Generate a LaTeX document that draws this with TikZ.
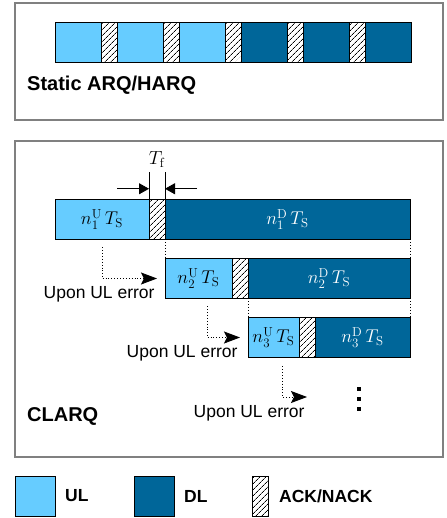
\documentclass[tikz,border=0pt]{standalone}
\usepackage{fix-cm}
\usepackage[no-math]{fontspec}
\setmainfont{Liberation Sans}
\usetikzlibrary{positioning, arrows.meta, patterns.meta}
\definecolor{ulblue}{RGB}{102,204,255}
\definecolor{dlblue}{RGB}{0,102,153}
\definecolor{framegray}{RGB}{128,128,128}
\tikzset{
x=1pt, y=-1pt, % one unit is one pixel of the layout, y grows downwards
slot/.style={draw, line width=0.9pt, inner sep=0pt, outer sep=0pt, minimum height=39.5pt, font=\fontsize{18.5}{22}\selectfont}, % every time slot
ul/.style={slot, fill=ulblue},
dl/.style={slot, fill=dlblue, text=white},
ack/.style={slot, minimum width=16pt, pattern={Lines[angle=45, distance=4pt, line width=0.7pt]}},
frame/.style={draw=framegray, line width=1.5pt},
title/.style={font=\fontsize{20}{24}\selectfont\bfseries, anchor=west, inner sep=0pt},
legend/.style={font=\fontsize{17.5}{20}\selectfont\bfseries, inner sep=0pt},
errtext/.style={font=\fontsize{17.5}{20}\selectfont, inner sep=0pt, anchor=north east, xshift=-2pt, yshift=-8pt},
errarrow/.style={dotted, line width=0.9pt, -{Stealth[length=16pt, width=12pt, inset=3pt]}},
dimarrow/.style={line width=0.9pt, -{Triangle[length=10pt, width=11pt]}},
}
\newcommand{\slotlabel}[3]{$n_{#1}^{\mathrm{#2}}\,T_{\mathrm{#3}}$}
\begin{document}
\begin{tikzpicture}
\useasboundingbox (0,0) rectangle (446,518);

% static scheme
\draw[frame] (15,3) rectangle (443,120);
\coordinate (s0) at (55,42.5);
\foreach \k/\w [count=\i, remember=\i as \j (initially 0)] in
  {ul/46,ack/16,ul/46,ack/16,ul/46,ack/16,dl/46,ack/16,dl/46,ack/16,dl/46}
  \node[\k, minimum width=\w pt, right=0pt of s\j] (s\i) {};
\node[title] (stat) at (27,85) {Static ARQ/HARQ};

% CLARQ
\draw[frame] (15,141) rectangle (443,457);
\coordinate (r1) at (55,219.5);
\node[ul, minimum width=94pt, right=0pt of r1] (u1) {\slotlabel{1}{U}{S}};
\node[ack, right=0pt of u1] (a1) {};
\node[dl, minimum width=245pt, right=0pt of a1] (d1) {\slotlabel{1}{D}{S}};

\node[ul, minimum width=67pt, below right=19.5pt and 0pt of a1.south east] (u2) {\slotlabel{2}{U}{S}};
\node[ack, right=0pt of u2] (a2) {};
\node[dl, minimum width=162pt, right=0pt of a2] (d2) {\slotlabel{2}{D}{S}};

\node[ul, minimum width=51pt, below right=19.5pt and 0pt of a2.south east] (u3) {\slotlabel{3}{U}{S}};
\node[ack, right=0pt of u3] (a3) {};
\node[dl, minimum width=95pt, right=0pt of a3] (d3) {\slotlabel{3}{D}{S}};

\draw[dotted, line width=0.9pt] (a1.south east) -- (u2.north west);
\draw[dotted, line width=0.9pt] (d1.south east) -- (d2.north east);
\draw[dotted, line width=0.9pt] (a2.south east) -- (u3.north west);
\draw[dotted, line width=0.9pt] (d2.south east) -- (d3.north east);

% feedback time
\coordinate (tl) at ([yshift=28pt]a1.north west);
\coordinate (tr) at ([yshift=28pt]a1.north east);
\draw[line width=0.9pt] (a1.north west) -- (tl);
\draw[line width=0.9pt] (a1.north east) -- (tr);
\coordinate (fl) at ([yshift=11pt]a1.north west);
\coordinate (fr) at ([yshift=11pt]a1.north east);
\draw[dimarrow] ([xshift=-32pt]fl) -- (fl);
\draw[dimarrow] ([xshift=32pt]fr) -- (fr);
\node[font=\fontsize{19}{22}\selectfont] (tf) at ([yshift=40pt]a1.north) {$T_{\mathrm{f}}$};

% retransmissions
\draw[errarrow] ([xshift=47pt, yshift=-8pt]u1.south west) |- ([xshift=-8pt]u2.west)
  node[errtext] (e1) {Upon UL error};
\draw[errarrow] ([xshift=42pt, yshift=-8pt]u2.south west) |- ([xshift=-8pt]u3.west)
  node[errtext] (e2) {Upon UL error};
\coordinate (n4) at ([xshift=-8pt, yshift=-59.5pt]a3.east);
\draw[errarrow] ([xshift=34pt, yshift=-9pt]u3.south west) |- (n4)
  node[errtext] (e3) {Upon UL error};
\foreach \y in {389,399,409}
  \fill (357,\y-2) rectangle +(4,4);
\node[title] (clarq) at (27,416) {CLARQ};

% legend
\node[ul, minimum width=40pt, minimum height=40pt, anchor=north west] (lu) at (15,476) {};
\node[legend, right=10pt of lu] (lul) {UL};
\node[dl, minimum width=40pt, minimum height=40pt, right=79pt of lu] (ld) {};
\node[legend, right=10pt of ld] (ldl) {DL};
\node[ack, minimum height=40pt, right=78pt of ld] (la) {};
\node[legend, right=11pt of la] (lal) {ACK/NACK};
\end{tikzpicture}
\end{document}
